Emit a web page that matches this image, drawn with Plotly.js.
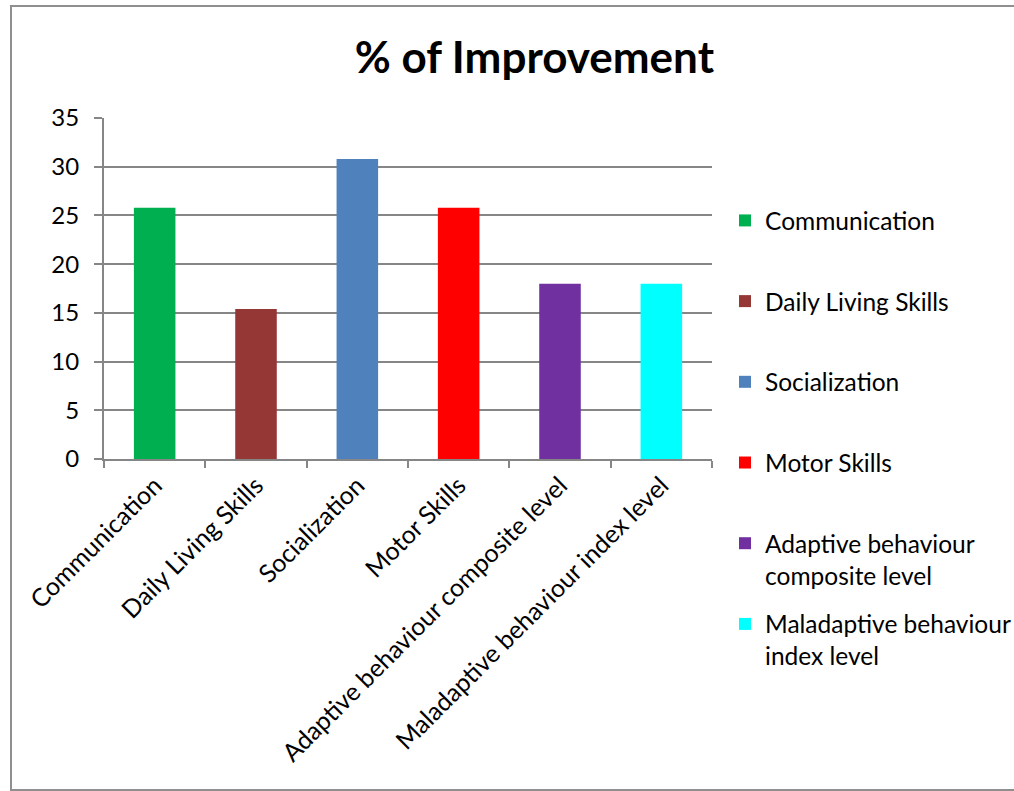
<!DOCTYPE html>
<html>
<head>
<meta charset="utf-8">
<script src="https://cdn.plot.ly/plotly-3.0.1.min.js"></script>
<style>
  html, body { margin: 0; padding: 0; background: #fff; width: 1014px; height: 791px; overflow: hidden; position: relative; }
  #frame { position: absolute; left: 10px; top: 5px; width: 1010px; height: 786px; border: 2px solid #8f8f8f; border-right: none; box-sizing: border-box; }
  #chart { position: absolute; left: 0; top: 0; width: 1014px; height: 791px; }
</style>
</head>
<body>
<div id="frame"></div>
<div id="chart"></div>
<script>
const categories = ["Communication", "Daily Living Skills", "Socialization", "Motor Skills", "Adaptive behaviour composite level", "Maladaptive behaviour index level"];
const values = [25.8, 15.4, 30.8, 25.8, 18, 18];
const legendLabels = ["Communication<br> ", "Daily Living Skills<br> ", "Socialization<br> ", "Motor Skills<br> ", "Adaptive behaviour<br>composite level", "Maladaptive behaviour<br>index level"];
const colors = ["#00B050", "#953735", "#4F81BD", "#FF0000", "#7030A0", "#00FFFF"];
const yTicks = [0, 5, 10, 15, 20, 25, 30, 35];

const FONT = "Lato, 'Open Sans', sans-serif";

const traces = categories.map((c, i) => ({
  type: 'bar',
  x: [c],
  y: [values[i]],
  name: legendLabels[i],
  legendgroup: 'g' + i,
  marker: { color: colors[i] },
  width: 0.41,
  hoverinfo: 'x+y'
}));

const layout = {
  width: 1014,
  height: 791,
  margin: { l: 104, r: 302, t: 118, b: 332, autoexpand: false },
  paper_bgcolor: 'rgba(0,0,0,0)',
  plot_bgcolor: 'rgba(0,0,0,0)',
  barmode: 'overlay',
  font: { family: FONT, color: '#000', size: 24 },
  title: {
    text: '<b>% of Improvement</b>',
    font: { family: FONT, size: 44, color: '#000' },
    xref: 'container', x: 0.527, xanchor: 'center',
    yref: 'container', y: 0.927, yanchor: 'middle'
  },
  xaxis: {
    type: 'category',
    categoryorder: 'array',
    categoryarray: categories,
    tickangle: -45,
    tickfont: { family: FONT, size: 25, color: '#000' },
    showline: true, linecolor: '#868686', linewidth: 2,
    ticks: 'outside', tickson: 'boundaries', ticklen: 7, tickcolor: '#868686', tickwidth: 2,
    showgrid: false,
    automargin: false,
    fixedrange: true
  },
  yaxis: {
    range: [0, 35],
    tickvals: yTicks,
    tickfont: { family: FONT, size: 24, color: '#000' },
    showline: true, linecolor: '#868686', linewidth: 2,
    ticks: 'outside', ticklen: 8, tickcolor: '#868686', tickwidth: 2,
    showgrid: true, gridcolor: '#868686', gridwidth: 2,
    zeroline: false,
    ticklabelstandoff: 10,
    automargin: false,
    fixedrange: true
  },
  showlegend: true,
  legend: {
    xref: 'container', x: 0.715, xanchor: 'left',
    yref: 'container', y: 0.7497, yanchor: 'top',
    maxheight: 1000,
    font: { family: FONT, size: 24.5, color: '#000' },
    valign: 'top',
    tracegroupgap: 14,
    itemclick: false, itemdoubleclick: false,
    bgcolor: 'rgba(0,0,0,0)'
  }
};

Plotly.newPlot('chart', traces, layout, { displayModeBar: false });
</script>
</body>
</html>
